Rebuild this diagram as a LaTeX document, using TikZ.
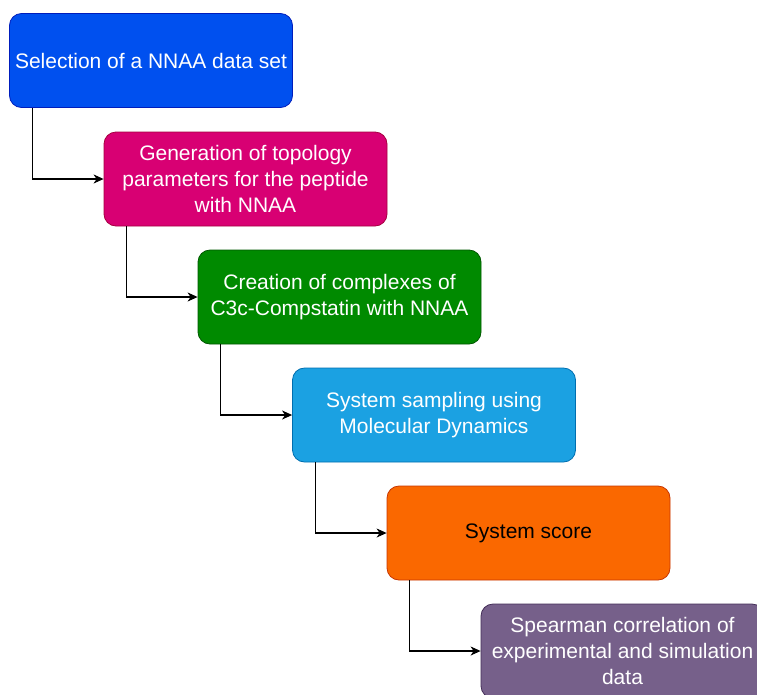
\documentclass[tikz,border=0pt]{standalone}
\usepackage{fontspec}
\setmainfont{Liberation Sans}
\usetikzlibrary{calc,arrows.meta}
\definecolor{stepblue}{HTML}{0050EF}
\definecolor{stepblueline}{HTML}{001DBC}
\definecolor{stepmagenta}{HTML}{D80073}
\definecolor{stepmagentaline}{HTML}{A50040}
\definecolor{stepgreen}{HTML}{008A00}
\definecolor{stepgreenline}{HTML}{005700}
\definecolor{stepcyan}{HTML}{1BA1E2}
\definecolor{stepcyanline}{HTML}{006EAF}
\definecolor{steporange}{HTML}{FA6800}
\definecolor{steporangeline}{HTML}{C73500}
\definecolor{steppurple}{HTML}{76608A}
\definecolor{steppurpleline}{HTML}{432D57}

\begin{document}
\begin{tikzpicture}[
    x=1pt, y=-1pt,
    stepbox/.style={rectangle, rounded corners=12pt, line width=0.8pt,
                    minimum width=283pt, minimum height=94pt,
                    inner sep=1pt, align=center, text=white,
                    font=\fontsize{21}{26}\selectfont},
    link/.style={draw=black, line width=1.1pt, -{Stealth[length=10pt,width=9pt,inset=3pt]}}
]

    \useasboundingbox (0,0) rectangle (757,694);

    % the six steps
    \node[stepbox, fill=stepblue, draw=stepblueline] (select) at (151,60.5)
        {Selection of a NNAA data set};
    \node[stepbox, fill=stepmagenta, draw=stepmagentaline] (topo) at (245.5,179)
        {Generation of topology\\parameters for the peptide\\with NNAA};
    \node[stepbox, fill=stepgreen, draw=stepgreenline] (complex) at (339.5,297)
        {Creation of complexes of\\C3c-Compstatin with NNAA};
    \node[stepbox, fill=stepcyan, draw=stepcyanline] (md) at (434,415)
        {System sampling using\\Molecular Dynamics};
    \node[stepbox, fill=steporange, draw=steporangeline, text=black] (score) at (528.5,533)
        {System score};
    \node[stepbox, fill=steppurple, draw=steppurpleline] (corr) at (622.5,651)
        {Spearman correlation of\\experimental and simulation\\data};

    % connectors
    \draw[link] ($(select.south west)+(23,0)$) |- (topo.west);
    \draw[link] ($(topo.south west)+(23,0)$) |- (complex.west);
    \draw[link] ($(complex.south west)+(23,0)$) |- (md.west);
    \draw[link] ($(md.south west)+(23,0)$) |- (score.west);
    \draw[link] ($(score.south west)+(23,0)$) |- (corr.west);

\end{tikzpicture}
\end{document}
